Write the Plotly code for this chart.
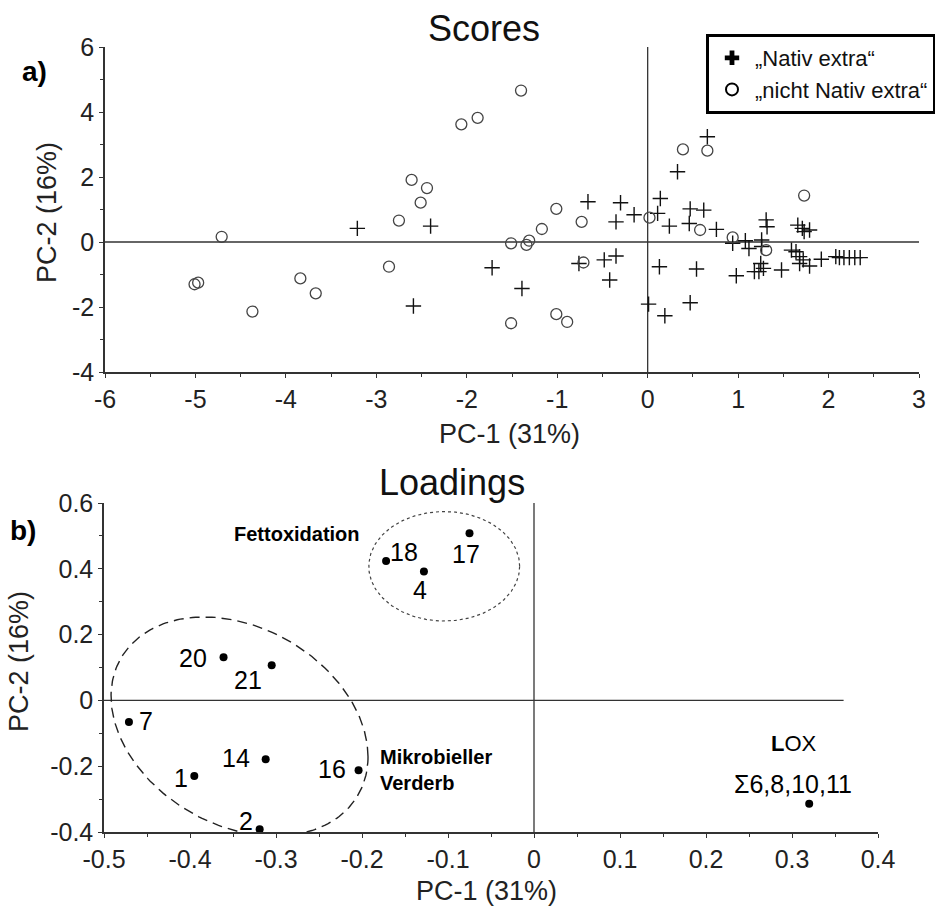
import numpy as np
import plotly.graph_objects as go

# ---------------- data: Scores ----------------
nativ_x = [-3.21, -2.40, -2.59, -1.72, -1.39, -0.66, -0.30, -0.15, -0.35, -0.76,
           -0.48, -0.35, -0.42, 0.01, 0.66, 0.33, 0.14, 0.11, 0.24, 0.47,
           0.62, 0.46, 0.76, 0.94, 1.08, 1.12, 1.26, 1.26, 1.31, 1.32,
           1.25, 1.18, 1.23, 1.48, 0.98, 0.54, 0.13, 0.19, 0.47, 1.66,
           1.71, 1.79, 1.73, 1.59, 1.64, 1.68, 1.72, 1.68, 1.79, 1.92,
           2.08, 2.12, 2.17, 2.23, 2.29, 2.35, 1.28]
nativ_y = [0.42, 0.49, -1.97, -0.79, -1.43, 1.24, 1.21, 0.84, 0.62, -0.66,
           -0.55, -0.43, -1.17, -1.91, 3.24, 2.16, 1.34, 0.88, 0.49, 1.02,
           0.98, 0.57, 0.39, -0.04, 0.04, -0.20, 0.06, -0.14, 0.68, 0.47,
           -0.66, -0.91, -0.91, -0.86, -1.04, -0.83, -0.76, -2.27, -1.87, 0.52,
           0.42, 0.37, 0.32, -0.25, -0.30, -0.45, -0.55, -0.66, -0.74, -0.53,
           -0.45, -0.48, -0.48, -0.48, -0.48, -0.48, -0.81]

nicht_x = [-4.71, -4.97, -5.01, -4.37, -3.84, -3.67, -1.40, -2.06, -1.88, -2.61,
           -2.44, -2.51, -2.75, -2.86, -1.51, -1.34, -1.31, -1.17, -1.01, -0.73,
           -0.71, -1.51, -1.01, -0.89, 0.02, 0.39, 0.66, 0.58, 0.94, 1.31, 1.73]
nicht_y = [0.16, -1.25, -1.30, -2.14, -1.12, -1.58, 4.66, 3.62, 3.82, 1.91,
           1.66, 1.21, 0.66, -0.76, -0.04, -0.09, 0.04, 0.40, 1.02, 0.62,
           -0.63, -2.50, -2.22, -2.46, 0.75, 2.85, 2.81, 0.37, 0.14, -0.25, 1.43]

scores_xticks = [-6, -5, -4, -3, -2, -1, 0, 1, 2, 3]
scores_xticktext = ["-6", "-5", "-4", "-3", "-2", "-1", "0", "1", "2", "3"]
scores_yticks = [-4, -2, 0, 2, 4, 6]
scores_yticktext = ["-4", "-2", "0", "2", "4", "6"]

# ---------------- data: Loadings ----------------
load_labels = ["1", "2", "4", "7", "14", "16", "17", "18", "20", "21", "LOX"]
load_x = [-0.395, -0.319, -0.128, -0.471, -0.312, -0.204, -0.075, -0.172, -0.361, -0.305, 0.320]
load_y = [-0.230, -0.392, 0.392, -0.066, -0.179, -0.212, 0.508, 0.424, 0.131, 0.107, -0.314]
# label offsets (pixels) relative to each point
label_dx = [-13, -14, -4, 17, -30, -27, -4, 18, -31, -24, None]
label_dy = [-2, 8, -19, 1, 1, 1, -21, 9, -1, -15, None]

load_xticks = [-0.5, -0.4, -0.3, -0.2, -0.1, 0, 0.1, 0.2, 0.3, 0.4]
load_xticktext = ["-0.5", "-0.4", "-0.3", "-0.2", "-0.1", "0", "0.1", "0.2", "0.3", "0.4"]
load_yticks = [-0.4, -0.2, 0, 0.2, 0.4, 0.6]
load_yticktext = ["-0.4", "-0.2", "0", "0.2", "0.4", "0.6"]

FONT = "Arial, Liberation Sans, sans-serif"
W, H = 935, 907

def px(x):
    return x / W

def py(y):
    return 1 - y / H

fig = go.Figure()

# Scores traces (plot)
fig.add_trace(go.Scatter(x=nativ_x, y=nativ_y, mode="markers", showlegend=False,
                         marker=dict(symbol="cross-thin", size=11,
                                     line=dict(color="#111", width=1.4)),
                         xaxis="x", yaxis="y"))
fig.add_trace(go.Scatter(x=nicht_x, y=nicht_y, mode="markers", showlegend=False,
                         marker=dict(symbol="circle-open", size=11,
                                     line=dict(color="#444", width=1.3), color="#444"),
                         xaxis="x", yaxis="y"))
# legend keys
fig.add_trace(go.Scatter(x=[None], y=[None], mode="markers", name="„Nativ extra“",
                         marker=dict(symbol="cross", size=15, color="#000"),
                         xaxis="x", yaxis="y"))
fig.add_trace(go.Scatter(x=[None], y=[None], mode="markers", name="„nicht Nativ extra“",
                         marker=dict(symbol="circle-open", size=15,
                                     line=dict(color="#000", width=2), color="#000"),
                         xaxis="x", yaxis="y"))

# Loadings ellipses (group outlines)
t = np.linspace(0, 2 * np.pi, 240)
ell_dot = dict(cx=-0.1044, cy=0.4076, ax=0.0877, ay=0.1664)
fig.add_trace(go.Scatter(x=ell_dot["cx"] + ell_dot["ax"] * np.cos(t),
                         y=ell_dot["cy"] + ell_dot["ay"] * np.sin(t),
                         mode="lines", showlegend=False, hoverinfo="skip",
                         line=dict(color="#444", width=1.2, dash="dot"),
                         xaxis="x2", yaxis="y2"))
ell_dash = dict(cx=-0.3424, cy=-0.0794, l11=0.1494, l21=-0.0919, l22=0.3200)
fig.add_trace(go.Scatter(x=ell_dash["cx"] + ell_dash["l11"] * np.cos(t),
                         y=ell_dash["cy"] + ell_dash["l21"] * np.cos(t) + ell_dash["l22"] * np.sin(t),
                         mode="lines", showlegend=False, hoverinfo="skip",
                         line=dict(color="#222", width=1.4, dash="10px,6px"),
                         xaxis="x2", yaxis="y2"))

fig.add_trace(go.Scatter(x=load_x, y=load_y, mode="markers", showlegend=False,
                         marker=dict(symbol="circle", size=8, color="#000"),
                         xaxis="x2", yaxis="y2"))

annotations = []
for lab, x, y, dx, dy in zip(load_labels, load_x, load_y, label_dx, label_dy):
    if dx is None:
        continue
    annotations.append(dict(x=x, y=y, xref="x2", yref="y2", text=lab, showarrow=False,
                            xanchor="center", yanchor="middle",
                            xshift=dx, yshift=dy, font=dict(size=25, color="#000", family=FONT)))

# group / variable labels on loadings
annotations += [
    dict(x=-0.276, y=0.507, xref="x2", yref="y2", text="<b>Fettoxidation</b>", showarrow=False,
         xanchor="center", yanchor="middle",
         font=dict(size=20, color="#000", family=FONT)),
    dict(x=-0.181, y=-0.212, xref="x2", yref="y2", text="<b>Mikrobieller<br>Verderb</b>",
         showarrow=False, xanchor="left", yanchor="middle", align="left",
         font=dict(size=20, color="#000", family=FONT)),
    dict(x=0.302, y=-0.131, xref="x2", yref="y2", text="<b>L</b>OX",
         xanchor="center", yanchor="middle",
         showarrow=False, font=dict(size=22, color="#000", family=FONT)),
    dict(x=0.301, y=-0.253, xref="x2", yref="y2", text="Σ6,8,10,11", showarrow=False,
         xanchor="center", yanchor="middle",
         font=dict(size=25, color="#000", family=FONT)),
]

# titles and axis titles
def paper_text(x, y, text, size, color="#222", angle=0):
    return dict(x=px(x), y=py(y), xref="paper", yref="paper", text=text, showarrow=False,
                xanchor="center", yanchor="middle", textangle=angle,
                font=dict(size=size, color=color, family=FONT))

annotations += [
    paper_text(484, 28, "Scores", 36, "#111"),
    paper_text(452, 482, "Loadings", 36, "#111"),
    paper_text(34, 71, "<b>a)</b>", 28, "#000"),
    paper_text(23, 530, "<b>b)</b>", 28, "#000"),
    paper_text(47, 213, "PC-2 (16%)", 27, angle=-90),
    paper_text(19, 662, "PC-2 (16%)", 27, angle=-90),
    paper_text(510, 434, "PC-1 (31%)", 27),
    paper_text(486, 891, "PC-1 (31%)", 27),
]

# reference lines through the origin
ref_line = dict(color="#333", width=1.3)
shapes = [
    dict(type="line", xref="x", yref="y", x0=-6, x1=3, y0=0, y1=0, line=ref_line, layer="below"),
    dict(type="line", xref="x", yref="y", x0=0, x1=0, y0=-4, y1=6, line=ref_line, layer="below"),
    dict(type="line", xref="x2", yref="y2", x0=-0.5, x1=0.36, y0=0, y1=0, line=ref_line, layer="below"),
    dict(type="line", xref="x2", yref="y2", x0=0, x1=0, y0=-0.4, y1=0.6, line=ref_line, layer="below"),
]

axis_common = dict(showgrid=False, showline=True, linecolor="#333", linewidth=1.5,
                   ticks="outside", ticklen=4, tickwidth=1.2, tickcolor="#333",
                   zeroline=False, automargin=False,
                   tickfont=dict(size=25, color="#222", family=FONT), fixedrange=True)

fig.update_layout(
    width=W, height=H, margin=dict(l=0, r=0, t=0, b=0, autoexpand=False),
    paper_bgcolor="white", plot_bgcolor="white",
    xaxis=dict(domain=[px(105), px(919)], range=[-6, 3],
               tickvals=scores_xticks, ticktext=scores_xticktext,
               minor=dict(dtick=0.5, tick0=0, ticks="outside", ticklen=3, tickcolor="#333"),
               anchor="y", **axis_common),
    yaxis=dict(domain=[py(372), py(47)], range=[-4, 6],
               tickvals=scores_yticks, ticktext=scores_yticktext,
               minor=dict(dtick=1, tick0=0, ticks="outside", ticklen=3, tickcolor="#333"),
               anchor="x", **axis_common),
    xaxis2=dict(domain=[px(104), px(878)], range=[-0.5, 0.4],
                tickvals=load_xticks, ticktext=load_xticktext,
                minor=dict(dtick=0.05, tick0=0, ticks="outside", ticklen=3, tickcolor="#333"),
                anchor="y2", **axis_common),
    yaxis2=dict(domain=[py(832), py(503)], range=[-0.4, 0.6],
                tickvals=load_yticks, ticktext=load_yticktext,
                minor=dict(dtick=0.1, tick0=0, ticks="outside", ticklen=3, tickcolor="#333"),
                anchor="x2", **axis_common),
    legend=dict(x=px(706), y=py(34), xanchor="left", yanchor="top",
                bordercolor="#000", borderwidth=3, bgcolor="white",
                font=dict(size=22, color="#111", family=FONT),
                itemsizing="constant", itemwidth=36, tracegroupgap=0),
    annotations=annotations,
    shapes=shapes,
)

fig.write_html("out.html")
